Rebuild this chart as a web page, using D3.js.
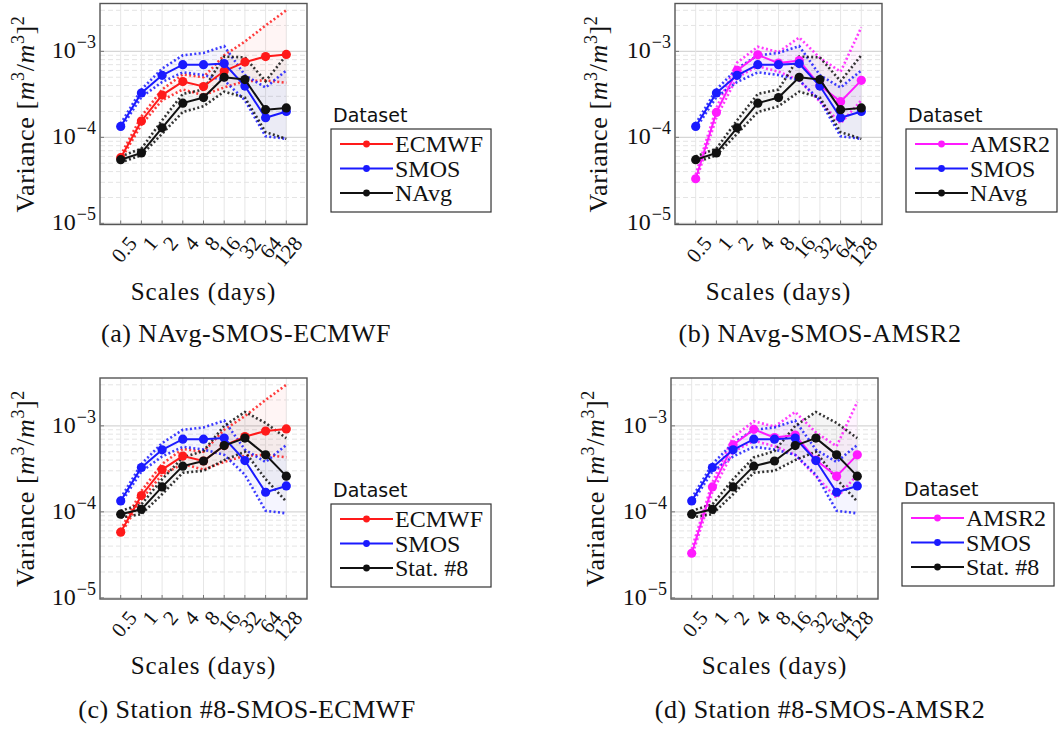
<!DOCTYPE html>
<html>
<head>
<meta charset="utf-8">
<script src="https://cdn.jsdelivr.net/npm/d3@7"></script>
<style>
  html, body { margin: 0; padding: 0; background: #fff; }
  svg { display: block; }
  .serif { font-family: "Liberation Serif", "DejaVu Serif", "Noto Serif", "Times New Roman", serif; }
  .sans { font-family: "DejaVu Sans", "Liberation Sans", sans-serif; }
</style>
</head>
<body>
<svg id="chart" width="1058" height="731"></svg>
<script>
// ---------------- data ----------------
const scales = [0.5, 1, 2, 4, 8, 16, 32, 64, 128];
const xTickLabels = ["0.5", "1", "2", "4", "8", "16", "32", "64", "128"];
const yTickExponents = [-5, -4, -3];

const smosMean  = [1.34e-4, 3.28e-4, 5.26e-4, 7.0e-4, 7.0e-4, 7.2e-4, 3.95e-4, 1.69e-4, 2.0e-4];
const smosUpper = [1.44e-4, 3.6e-4, 6.3e-4, 9.0e-4, 9.6e-4, 1.15e-3, 5.3e-4, 3.8e-4, 6.0e-4];
const smosLower = [1.26e-4, 2.94e-4, 4.4e-4, 5.7e-4, 5.3e-4, 4.6e-4, 2.7e-4, 1.03e-4, 9.6e-5];

const ecmwfMean  = [5.8e-5, 1.55e-4, 3.1e-4, 4.45e-4, 3.9e-4, 5.9e-4, 7.5e-4, 8.7e-4, 9.2e-4];
const ecmwfUpper = [6.2e-5, 1.75e-4, 3.6e-4, 5.4e-4, 5.0e-4, 9.0e-4, 1.3e-3, 2.0e-3, 3.0e-3];
const ecmwfLower = [5.5e-5, 1.4e-4, 2.7e-4, 3.6e-4, 3.1e-4, 3.8e-4, 4.5e-4, 4.6e-4, 4.3e-4];

const amsr2Mean  = [3.3e-5, 1.95e-4, 6.0e-4, 9.1e-4, 7.3e-4, 7.8e-4, 4.0e-4, 2.6e-4, 4.6e-4];
const amsr2Upper = [3.7e-5, 2.2e-4, 7.4e-4, 1.13e-3, 9.8e-4, 1.45e-3, 8.4e-4, 5.8e-4, 1.9e-3];
const amsr2Lower = [3.0e-5, 1.7e-4, 5.0e-4, 6.7e-4, 5.8e-4, 4.6e-4, 2.6e-4, 1.45e-4, 2.7e-4];

const navgMean  = [5.5e-5, 6.6e-5, 1.29e-4, 2.5e-4, 2.9e-4, 5.0e-4, 4.7e-4, 2.1e-4, 2.2e-4];
const navgUpper = [6.0e-5, 7.4e-5, 1.58e-4, 3.2e-4, 3.6e-4, 8.7e-4, 8.5e-4, 4.5e-4, 9.0e-4];
const navgLower = [5.1e-5, 6.2e-5, 1.1e-4, 1.97e-4, 2.3e-4, 3.4e-4, 2.9e-4, 1.15e-4, 9.6e-5];

const stationMean  = [9.4e-5, 1.07e-4, 1.95e-4, 3.4e-4, 3.9e-4, 5.9e-4, 7.2e-4, 4.6e-4, 2.6e-4];
const stationUpper = [1.03e-4, 1.22e-4, 2.4e-4, 4.3e-4, 5.1e-4, 1.0e-3, 1.45e-3, 1.08e-3, 7.2e-4];
const stationLower = [8.6e-5, 9.4e-5, 1.6e-4, 2.85e-4, 3.0e-4, 4.0e-4, 5.0e-4, 2.4e-4, 1.32e-4];

// ---------------- series definitions ----------------
const S = {
  ECMWF:   {name: "ECMWF",    color: "#ff1a1a", mean: ecmwfMean,   upper: ecmwfUpper,   lower: ecmwfLower},
  AMSR2:   {name: "AMSR2",    color: "#ff1aff", mean: amsr2Mean,   upper: amsr2Upper,   lower: amsr2Lower},
  SMOS:    {name: "SMOS",     color: "#1a1aff", mean: smosMean,    upper: smosUpper,    lower: smosLower},
  NAvg:    {name: "NAvg",     color: "#111111", mean: navgMean,    upper: navgUpper,    lower: navgLower},
  Station: {name: "Stat. #8", color: "#111111", mean: stationMean, upper: stationUpper, lower: stationLower}
};

const panels = [
  {left: 100, top: 3.5, series: ["ECMWF", "SMOS", "NAvg"], yl: 34, legX: 331, legY: 129,
   caption: "(a) NAvg-SMOS-ECMWF", capX: 246, capY: 342},
  {left: 675, top: 3.5, series: ["AMSR2", "SMOS", "NAvg"], yl: 607, legX: 906, legY: 129,
   caption: "(b) NAvg-SMOS-AMSR2", capX: 820, capY: 342},
  {left: 100, top: 378, series: ["ECMWF", "SMOS", "Station"], yl: 34, legX: 331, legY: 504,
   caption: "(c) Station #8-SMOS-ECMWF", capX: 247, capY: 718},
  {left: 671, top: 378, series: ["AMSR2", "SMOS", "Station"], yl: 604, legX: 902, legY: 503,
   caption: "(d) Station #8-SMOS-AMSR2", capX: 820, capY: 718}
];

const W = 207, H = 221;

const svg = d3.select("#chart");

panels.forEach((p, pi) => {
  const x = d3.scaleLog().base(2).domain([0.25, 256]).range([p.left, p.left + W]);
  const y = d3.scaleLog().domain([9.7e-6, 3.6e-3]).range([p.top + H, p.top]);
  const g = svg.append("g");
  const clipId = "clip" + pi;
  g.append("clipPath").attr("id", clipId).append("rect")
    .attr("x", p.left).attr("y", p.top).attr("width", W).attr("height", H);

  // grid
  const grid = g.append("g");
  const minor = [];
  [-6, -5, -4, -3].forEach(e => { for (let k = 2; k <= 9; k++) { const v = k * Math.pow(10, e); if (v > 9.7e-6 && v < 3.6e-3) minor.push(v); } });
  grid.selectAll(".mn").data(minor).enter().append("line")
    .attr("x1", p.left).attr("x2", p.left + W)
    .attr("y1", d => y(d)).attr("y2", d => y(d))
    .attr("stroke", "#e4e4e4").attr("stroke-width", 1).attr("stroke-dasharray", "5,3");
  grid.selectAll(".mj").data(yTickExponents.map(e => Math.pow(10, e))).enter().append("line")
    .attr("x1", p.left).attr("x2", p.left + W)
    .attr("y1", d => y(d)).attr("y2", d => y(d))
    .attr("stroke", "#d6d6d6").attr("stroke-width", 1.2);
  grid.selectAll(".vx").data(scales).enter().append("line")
    .attr("x1", d => x(d)).attr("x2", d => x(d))
    .attr("y1", p.top).attr("y2", p.top + H)
    .attr("stroke", "#e6e6e6").attr("stroke-width", 1);

  const plot = g.append("g").attr("clip-path", `url(#${clipId})`);
  const lineGen = d3.line().x((d, i) => x(scales[i])).y(d => y(d));
  const areaGen = d3.area().x((d, i) => x(scales[i])).y0(d => y(d[0])).y1(d => y(d[1]));

  // shaded bands
  p.series.forEach(k => {
    const s = S[k];
    plot.append("path")
      .attr("d", areaGen(s.lower.map((v, i) => [v, s.upper[i]])))
      .attr("fill", s.color).attr("fill-opacity", 0.045).attr("stroke", "none");
  });
  // dotted bounds
  p.series.forEach(k => {
    const s = S[k];
    [s.upper, s.lower].forEach(arr => {
      plot.append("path").attr("d", lineGen(arr))
        .attr("fill", "none").attr("stroke", s.color).attr("stroke-width", 2.6)
        .attr("stroke-dasharray", "2,2.4").attr("opacity", 0.85);
    });
  });
  // mean lines + markers
  p.series.forEach(k => {
    const s = S[k];
    plot.append("path").attr("d", lineGen(s.mean))
      .attr("fill", "none").attr("stroke", s.color).attr("stroke-width", 2);
    plot.selectAll(null).data(s.mean).enter().append("circle")
      .attr("cx", (d, i) => x(scales[i])).attr("cy", d => y(d)).attr("r", 4.6)
      .attr("fill", s.color);
  });

  // frame
  g.append("rect").attr("x", p.left).attr("y", p.top).attr("width", W).attr("height", H)
    .attr("fill", "none").attr("stroke", "#555").attr("stroke-width", 1.4);

  // ticks (inside)
  g.selectAll(".xt").data(scales).enter().append("line")
    .attr("x1", d => x(d)).attr("x2", d => x(d))
    .attr("y1", p.top + H).attr("y2", p.top + H - 4)
    .attr("stroke", "#777").attr("stroke-width", 1);
  g.selectAll(".yt").data(yTickExponents).enter().append("line")
    .attr("x1", p.left).attr("x2", p.left + 4)
    .attr("y1", d => y(Math.pow(10, d))).attr("y2", d => y(Math.pow(10, d)))
    .attr("stroke", "#777").attr("stroke-width", 1);

  // y tick labels
  yTickExponents.forEach(e => {
    const t = g.append("text").attr("class", "serif")
      .attr("x", p.left - 4).attr("y", y(Math.pow(10, e)) + 7)
      .attr("text-anchor", "end").attr("font-size", 24).attr("fill", "#111");
    t.append("tspan").text("10");
    t.append("tspan").attr("dy", -10).attr("dx", 1).attr("font-size", 18).text("\u2212" + Math.abs(e));
  });

  // x tick labels (rotated)
  xTickLabels.forEach((lab, i) => {
    const tx = x(scales[i]) + 6, ty = p.top + H + 10;
    g.append("text").attr("class", "serif")
      .attr("transform", `translate(${tx},${ty}) rotate(-50)`)
      .attr("text-anchor", "end").attr("dy", "0.7em")
      .attr("font-size", 21).attr("fill", "#111")
      .text(lab);
  });

  // x axis title
  g.append("text").attr("class", "serif").attr("x", p.left + W / 2).attr("y", p.top + H + 75)
    .attr("text-anchor", "middle").attr("font-size", 25)
    .attr("letter-spacing", 1).attr("fill", "#111").text("Scales (days)");

  // y axis title
  const yt = g.append("text").attr("class", "serif")
    .attr("transform", `translate(${p.yl},${p.top + H / 2}) rotate(-90)`)
    .attr("text-anchor", "middle").attr("font-size", 26).attr("letter-spacing", 0.6).attr("fill", "#111");
  yt.append("tspan").text("Variance [");
  yt.append("tspan").attr("font-style", "italic").text("m");
  yt.append("tspan").attr("dy", -10).attr("font-size", 18).text("3");
  yt.append("tspan").attr("dy", 10).text("/");
  yt.append("tspan").attr("font-style", "italic").text("m");
  yt.append("tspan").attr("dy", -10).attr("font-size", 18).text("3");
  yt.append("tspan").attr("dy", 10).text("]");
  yt.append("tspan").attr("dy", -10).attr("font-size", 18).text("2");

  // legend
  const lg = g.append("g");
  lg.append("text").attr("class", "sans").attr("x", p.legX + 2).attr("y", p.legY - 7)
    .attr("font-size", 19).attr("fill", "#111").text("Dataset");
  const box = lg.append("rect").attr("x", p.legX).attr("y", p.legY).attr("height", 83)
    .attr("fill", "#fff").attr("stroke", "#333").attr("stroke-width", 1.2);
  let maxW = 0;
  p.series.forEach((k, j) => {
    const s = S[k];
    const ly = p.legY + 15 + j * 24.5;
    lg.append("line").attr("x1", p.legX + 9).attr("x2", p.legX + 62)
      .attr("y1", ly).attr("y2", ly).attr("stroke", s.color).attr("stroke-width", 1.8);
    lg.append("circle").attr("cx", p.legX + 35.5).attr("cy", ly).attr("r", 3.4).attr("fill", s.color);
    const t = lg.append("text").attr("class", "serif").attr("x", p.legX + 64).attr("y", ly + 8)
      .attr("font-size", 24).attr("fill", "#111").text(s.name);
    maxW = Math.max(maxW, t.node().getComputedTextLength());
  });
  box.attr("width", Math.min(64 + maxW + 8, 1057 - p.legX));

  // caption
  g.append("text").attr("class", "serif").attr("x", p.capX).attr("y", p.capY)
    .attr("text-anchor", "middle").attr("font-size", 26).attr("letter-spacing", 0.5)
    .attr("fill", "#111").text(p.caption);
});
</script>
</body>
</html>
